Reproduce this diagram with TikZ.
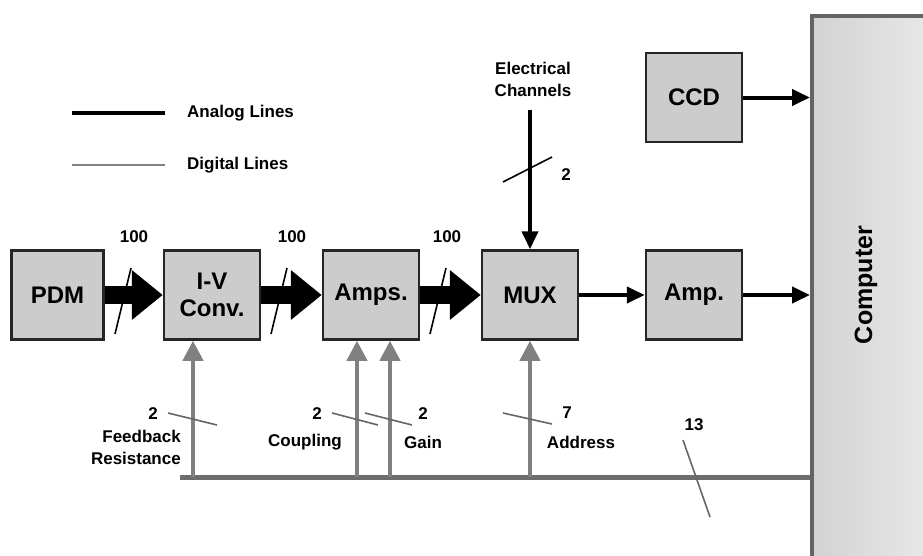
\documentclass[tikz,border=0pt]{standalone}
\usepackage{fontspec}
\setmainfont{Liberation Sans}
\usetikzlibrary{arrows.meta}

\definecolor{boxfill}{RGB}{204,204,204}
\definecolor{digigray}{RGB}{128,128,128}
\definecolor{compedge}{RGB}{100,100,100}

\tikzset{
  box/.style={draw=black!85,line width=2.5pt,fill=boxfill,minimum width=96pt,minimum height=89pt,
    inner sep=0pt,align=center,font=\fontsize{24}{27}\selectfont\bfseries},
  lbl/.style={inner sep=0pt,align=center,font=\fontsize{17}{22}\selectfont\bfseries},
  analog/.style={line width=4pt,-{Triangle[length=18pt,width=16pt]}},
  bigarrow/.style={line width=18pt,-{Triangle[length=31pt,width=48pt]}},
  digital/.style={draw=digigray,line width=4pt,-{Triangle[length=20pt,width=20pt]}},
  tick/.style={line width=1.6pt},
  dtick/.style={draw=digigray!80!black,line width=1.6pt}
}

\begin{document}
\begin{tikzpicture}[x=1pt,y=-1pt]
    \clip (0,0) rectangle (923,555);
    \fill[white] (0,0) rectangle (923,555);

    %computer
    \node[draw=compedge,line width=4pt,left color=gray!35,right color=gray!15,
          minimum width=140pt,minimum height=580pt,anchor=north west] (comp) at (810,14) {};
    \node[lbl,rotate=90,font=\fontsize{25}{28}\selectfont\bfseries] (comptxt) at (866,285) {Computer};

    %boxes
    \node[box,minimum width=92pt] (pdm) at (57.5,295) {PDM};
    \node[box] (iv) at (212,295) {I-V\\Conv.};
    \node[box] (amps) at (371,295) {Amps.};
    \node[box] (mux) at (530,295) {MUX};
    \node[box] (amp) at (694,295) {Amp.};
    \node[box] (ccd) at (694,97.5) {CCD};

    %legend
    \coordinate (an1) at (72,113);
    \coordinate (an2) at (165,113);
    \coordinate (dg1) at (72,165);
    \coordinate (dg2) at (165,165);
    \draw[line width=4pt] (an1) -- (an2);
    \draw[draw=digigray,line width=2.5pt] (dg1) -- (dg2);
    \node[lbl,anchor=west] (antxt) at (187,113) {Analog Lines};
    \node[lbl,anchor=west] (dgtxt) at (187,165) {Digital Lines};

    %analog
    \draw[bigarrow] (pdm.east) -- (iv.west);
    \draw[bigarrow] (iv.east) -- (amps.west);
    \draw[bigarrow] (amps.east) -- (mux.west);
    \draw[analog] (mux.east) -- (amp.west);
    \draw[analog] (amp.east) -- (amp.east -| comp.west);
    \draw[analog] (ccd.east) -- (ccd.east -| comp.west);

    \node[lbl] (elec) at (533,79) {Electrical\\Channels};
    \coordinate (elec0) at (530,110);
    \draw[analog] (elec0) -- (mux.north);

    \draw[tick] (115,334) -- (131,268);
    \draw[tick] (271,334) -- (287,268);
    \draw[tick] (430,334) -- (446,268);
    \draw[tick] (503,182) -- (552,157);
    \node[lbl] (n1) at (134,237) {100};
    \node[lbl] (n2) at (292,237) {100};
    \node[lbl] (n3) at (447,237) {100};
    \node[lbl] (n4) at (566,175) {2};

    %digital
    \coordinate (busL) at (180,477);
    \coordinate (b1) at (193,477);
    \coordinate (b2) at (357,477);
    \coordinate (b3) at (390,477);
    \coordinate (b4) at (530,477);
    \draw[draw=digigray!85!black,line width=5pt] (busL) -- (busL -| comp.west);
    \draw[digital] (b1) -- (b1 |- iv.south);
    \draw[digital] (b2) -- (b2 |- amps.south);
    \draw[digital] (b3) -- (b3 |- amps.south);
    \draw[digital] (b4) -- (b4 |- mux.south);

    \draw[dtick] (168,413) -- (217,425);
    \draw[dtick] (332,413) -- (378,425);
    \draw[dtick] (365,413) -- (412,425);
    \draw[dtick] (503,413) -- (552,424);
    \draw[dtick] (683,440) -- (710,517);
    \node[lbl] (d1) at (153,414) {2};
    \node[lbl] (d2) at (317,414) {2};
    \node[lbl] (d3) at (423,414) {2};
    \node[lbl] (d4) at (567,413) {7};
    \node[lbl] (d5) at (694,425) {13};
    \node[lbl,align=right,anchor=east] (fb) at (181,447) {Feedback\\Resistance};
    \node[lbl] (cp) at (305,442) {Coupling};
    \node[lbl] (gn) at (423,442) {Gain};
    \node[lbl] (ad) at (581,442) {Address};

\end{tikzpicture}
\end{document}
